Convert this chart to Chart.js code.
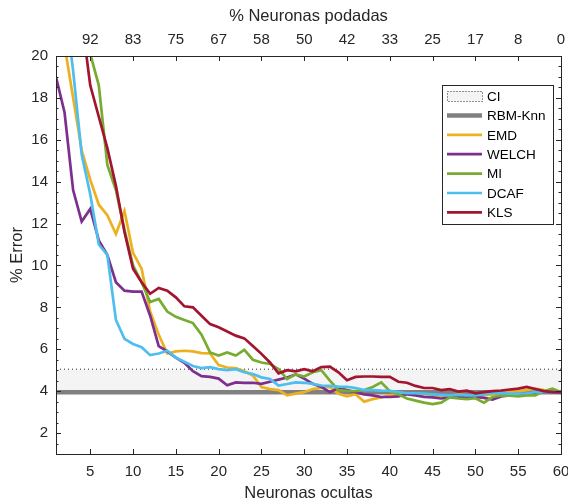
<!DOCTYPE html>
<html>
<head>
<meta charset="utf-8">
<script src="https://cdn.jsdelivr.net/npm/chart.js@4.4.1/dist/chart.umd.min.js"></script>
<style>
  html, body { margin: 0; padding: 0; background: #fff; }
  canvas { display: block; }
</style>
</head>
<body>
<canvas id="errorChart" width="568" height="504"></canvas>
<script>
// hidden neurons (x) and error series
var hiddenNeurons = [1,2,3,4,5,6,7,8,9,10,11,12,13,14,15,16,17,18,19,20,
  21,22,23,24,25,26,27,28,29,30,31,32,33,34,35,36,37,38,39,40,
  41,42,43,44,45,46,47,48,49,50,51,52,53,54,55,56,57,58,59,60];

var emd = [23.0,20.5,18.0,15.5,14.1,12.9,12.4,11.5,12.6,10.6,
  9.85,7.8,6.7,5.8,5.9,5.93,5.9,5.82,5.8,5.25,
  5.13,5.1,4.95,4.75,4.2,4.1,4.05,3.8,3.88,3.95,
  4.1,4.15,4.2,3.88,3.75,3.85,3.5,3.62,3.7,3.8,
  3.88,3.9,3.85,3.8,3.75,3.8,3.75,3.85,3.8,3.75,
  3.8,3.85,3.9,3.95,4.0,4.05,4.12,4.05,3.95,3.95];

var welch = [19.0,17.3,13.6,12.1,12.7,11.2,10.5,9.2,8.8,8.75,
  8.75,7.6,6.15,5.9,5.6,5.35,4.95,4.72,4.68,4.6,
  4.28,4.42,4.4,4.4,4.35,4.45,4.55,4.65,4.8,4.6,
  4.35,4.2,3.95,4.15,4.05,3.95,3.85,3.8,3.72,3.72,
  3.75,3.85,3.8,3.72,3.7,3.65,3.7,3.72,3.7,3.72,
  3.68,3.6,3.75,3.8,3.85,3.88,3.92,3.95,3.95,3.92];

var mi = [24.0,23.0,22.0,21.4,20.1,18.6,14.8,13.6,11.7,10.0,
  9.2,8.25,8.4,7.8,7.55,7.4,7.25,6.7,5.85,5.7,
  5.85,5.7,5.97,5.5,5.37,5.3,5.06,4.58,4.8,4.7,
  4.9,5.0,4.5,4.05,4.02,4.0,4.05,4.2,4.42,4.0,
  3.85,3.65,3.55,3.45,3.38,3.45,3.7,3.65,3.62,3.66,
  3.45,3.72,3.8,3.78,3.75,3.8,3.8,4.0,4.12,3.95];

var dcaf = [26.0,22.6,19.3,15.3,13.4,11.0,10.5,7.4,6.5,6.25,
  6.1,5.72,5.8,5.93,5.6,5.4,5.2,5.1,5.15,5.05,
  5.0,5.05,4.9,4.82,4.66,4.58,4.27,4.34,4.42,4.4,
  4.35,4.27,4.25,4.22,4.2,4.15,4.05,4.05,4.03,4.02,
  3.95,3.9,3.9,3.88,3.85,3.82,3.8,3.82,3.8,3.8,
  3.85,3.9,3.92,3.88,3.88,3.9,3.95,3.95,3.95,3.95];

var kls = [27.0,25.0,23.5,21.8,18.6,17.1,15.6,13.8,11.6,9.84,
  9.2,8.65,8.93,8.8,8.48,8.05,8.0,7.6,7.2,7.05,
  6.85,6.65,6.52,6.15,5.78,5.37,4.85,5.0,4.95,5.05,
  4.95,5.15,5.17,4.9,4.52,4.68,4.7,4.7,4.68,4.68,
  4.45,4.4,4.25,4.15,4.15,4.05,4.1,3.98,4.02,3.9,
  3.95,4.0,4.03,4.08,4.12,4.2,4.1,4.0,3.95,3.95];

var rbmKnn = 3.95;
var ciUpper = 5.05;
var ciLower = 3.9;

var xTicks = [5,10,15,20,25,30,35,40,45,50,55,60];
var prunedLabels = ['92','83','75','67','58','50','42','33','25','17','8','0'];
var yTicks = [2,4,6,8,10,12,14,16,18,20];

var axisColor = '#262626';
var fontFamily = '"Liberation Sans", Arial, Helvetica, sans-serif';

function toPoints(values) {
  return values.map(function (v, i) { return {x: hiddenNeurons[i], y: v}; });
}
function flat(v) {
  return [{x: hiddenNeurons[0], y: v}, {x: hiddenNeurons[hiddenNeurons.length - 1], y: v}];
}

// inward ticks + box, like the original figure
var boxPlugin = {
  id: 'boxTicks',
  afterDatasetsDraw: function (chart) {
    var c = chart.ctx, a = chart.chartArea;
    var xs = chart.scales.x, ys = chart.scales.y;
    c.save();
    c.strokeStyle = axisColor;
    c.lineWidth = 1;
    c.beginPath();
    xTicks.forEach(function (t) {
      var px = Math.round(xs.getPixelForValue(t)) + 0.5;
      c.moveTo(px, a.bottom); c.lineTo(px, a.bottom - 5);
      c.moveTo(px, a.top); c.lineTo(px, a.top + 5);
    });
    for (var v = 1.5; v < 20; v += 0.5) {
      var py = Math.round(ys.getPixelForValue(v)) + 0.5;
      var len = (v % 2 === 0) ? 5 : 2.5;
      c.moveTo(a.left, py); c.lineTo(a.left + len, py);
      c.moveTo(a.right, py); c.lineTo(a.right - len, py);
    }
    c.stroke();
    c.strokeRect(Math.round(a.left) + 0.5, Math.round(a.top) + 0.5,
      Math.round(a.right - a.left), Math.round(a.bottom - a.top));
    c.restore();
  }
};

// legend box in the upper right of the plot
var legendPlugin = {
  id: 'boxLegend',
  afterDraw: function (chart) {
    var c = chart.ctx, a = chart.chartArea;
    var left = Math.round(a.right) - 119, top = a.top + 29, w = 111, h = 139;
    c.save();
    c.fillStyle = '#fff';
    c.fillRect(left, top, w, h);
    c.strokeStyle = axisColor;
    c.lineWidth = 1;
    c.strokeRect(left + 0.5, top + 0.5, w, h);
    c.font = '13.5px ' + fontFamily;
    c.textBaseline = 'middle';
    chart.data.datasets.forEach(function (ds, i) {
      var y = top + 11 + i * 19.4;
      var x0 = left + 5, x1 = left + 40;
      if (ds.fill) {
        c.fillStyle = ds.backgroundColor;
        c.fillRect(x0, y - 5, x1 - x0, 10);
        c.setLineDash([1, 2]);
        c.lineWidth = 1;
        c.strokeStyle = ds.borderColor;
        c.strokeRect(x0 + 0.5, y - 5 + 0.5, x1 - x0, 10);
        c.setLineDash([]);
      } else {
        c.strokeStyle = ds.borderColor;
        c.lineWidth = ds.borderWidth;
        c.beginPath(); c.moveTo(x0, y); c.lineTo(x1, y); c.stroke();
      }
      c.fillStyle = '#000';
      c.fillText(ds.label, left + 45, y + 1);
    });
    c.restore();
  }
};

function series(label, values, color, order) {
  return {
    label: label, data: toPoints(values), borderColor: color,
    borderWidth: 2.7, pointRadius: 0, tension: 0, fill: false, order: order
  };
}

// x axes: let the end labels overhang the plot like the original
function fitX(h) {
  return function (s) { s.height = h; s.paddingLeft = 0; s.paddingRight = 0; };
}

var ctx = document.getElementById('errorChart').getContext('2d');
var errorChart = new Chart(ctx, {
  type: 'line',
  data: {
    datasets: [
      {label: 'CI', data: flat(ciUpper), borderColor: axisColor, borderWidth: 1,
        borderDash: [1, 3], backgroundColor: '#f4f4f4', pointRadius: 0,
        fill: {value: ciLower}, order: 7},
      {label: 'RBM-Knn', data: flat(rbmKnn), borderColor: '#808080', borderWidth: 4.5,
        pointRadius: 0, fill: false, order: 6},
      series('EMD', emd, '#EDB120', 5),
      series('WELCH', welch, '#7E2F8E', 4),
      series('MI', mi, '#77AC30', 3),
      series('DCAF', dcaf, '#4DBEEE', 2),
      series('KLS', kls, '#A2142F', 1)
    ]
  },
  options: {
    responsive: false,
    animation: false,
    layout: {padding: {left: 0, right: 7, top: 0, bottom: 0}},
    plugins: {legend: {display: false}, tooltip: {enabled: false}},
    scales: {
      x: {
        type: 'linear', position: 'bottom', min: 1, max: 60,
        afterBuildTicks: function (s) { s.ticks = xTicks.map(function (v) { return {value: v}; }); },
        afterFit: fitX(50),
        grid: {display: false, drawTicks: false},
        border: {display: false},
        ticks: {color: axisColor, font: {size: 15, family: fontFamily}, padding: 9, maxRotation: 0,
          callback: function (v) { return String(v); }},
        title: {display: true, text: 'Neuronas ocultas', color: axisColor,
          font: {size: 16.5, family: fontFamily}, padding: {top: 0, bottom: 1}}
      },
      x2: {
        type: 'linear', position: 'top', min: 1, max: 60,
        afterBuildTicks: function (s) { s.ticks = xTicks.map(function (v) { return {value: v}; }); },
        afterFit: fitX(56),
        grid: {display: false, drawTicks: false},
        border: {display: false},
        ticks: {color: axisColor, font: {size: 15, family: fontFamily}, padding: 7, maxRotation: 0,
          callback: function (v, i) { return prunedLabels[i]; }},
        title: {display: true, text: '% Neuronas podadas', color: axisColor,
          font: {size: 16.5, family: fontFamily}, padding: {top: 7, bottom: 0}}
      },
      y: {
        type: 'linear', position: 'left', min: 1, max: 20,
        afterBuildTicks: function (s) { s.ticks = yTicks.map(function (v) { return {value: v}; }); },
        afterFit: function (s) { s.width = 56; },
        grid: {display: false, drawTicks: false},
        border: {display: false},
        ticks: {color: axisColor, font: {size: 15, family: fontFamily}, padding: 8},
        title: {display: true, text: '% Error', color: axisColor,
          font: {size: 16.5, family: fontFamily}, padding: {top: 8, bottom: 0}}
      }
    }
  },
  plugins: [boxPlugin, legendPlugin]
});
</script>
</body>
</html>
